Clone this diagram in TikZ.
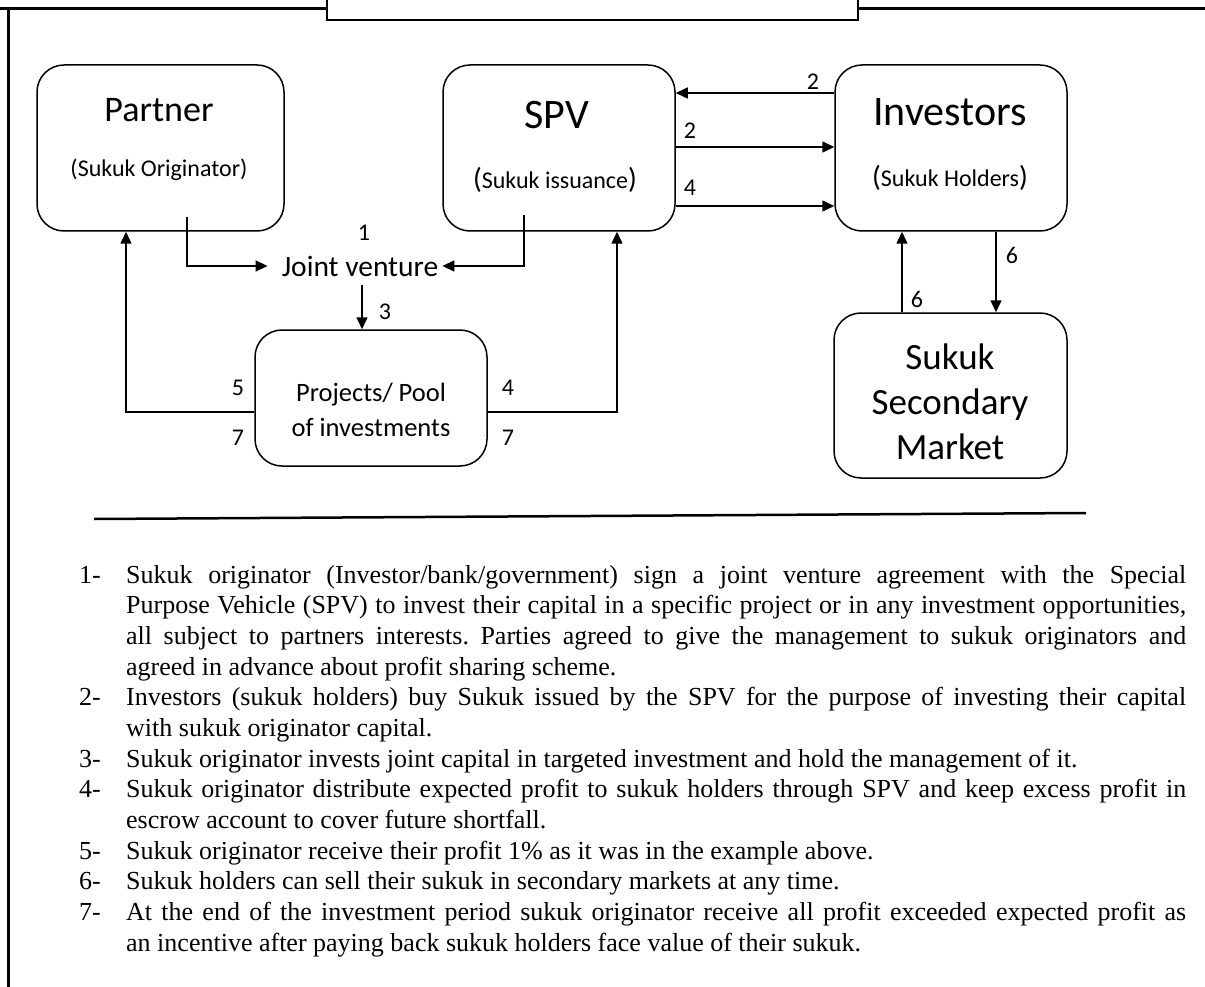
\documentclass[tikz,border=0pt]{standalone}
\usepackage{fontspec}
\setmainfont{Liberation Serif}
\newfontfamily\calib{Carlito}
\usetikzlibrary{arrows.meta}
\newcommand{\bp}[1]{{\fontsize{29}{30}\selectfont#1}}
\begin{document}
\frenchspacing
\begin{tikzpicture}[x=1pt,y=-1pt,
  box/.style={draw,line width=1.5pt,rounded corners=27pt,inner sep=0pt},
  arr/.style={line width=1.5pt,-{Triangle[length=12pt,width=11pt]}},
  lab/.style={font=\calib\fontsize{24}{28}\selectfont,inner sep=0pt},
  big/.style={font=\calib\fontsize{42}{48}\selectfont,inner sep=0pt},
  sub/.style={font=\calib\fontsize{24}{28}\selectfont,inner sep=0pt},
  txt/.style={anchor=base west,inner sep=0pt,font=\fontsize{26}{30}\selectfont},
  num/.style={anchor=base west,inner sep=0pt,font=\fontsize{26}{30}\selectfont},
]
\useasboundingbox (0,0) rectangle (1205,987);
% frame
\draw[line width=3pt] (0,9) -- (327,9);
\draw[line width=3pt] (858,9) -- (1205,9);
\draw[line width=3pt] (8,7.5) -- (8,987);
\node[draw,line width=1.5pt,minimum width=531pt,minimum height=40pt,inner sep=0pt,fill=white] (title) at (592.5,0) {};

% boxes
\node[box,minimum width=247pt,minimum height=166pt] (partner) at (160.5,148) {};
\node[box,minimum width=232pt,minimum height=166pt] (spv) at (559,148) {};
\node[box,minimum width=232pt,minimum height=166pt] (inv) at (951,148) {};
\node[box,minimum width=233pt,minimum height=165pt] (mkt) at (950.5,395.5) {};
\node[box,minimum width=232pt,minimum height=136pt] (proj) at (371,398) {};

% box texts
\node[font=\calib\fontsize{36}{42}\selectfont,inner sep=0pt] (ptitle) at (159,110) {Partner};
\node[sub] (psub) at (159,170) {(Sukuk Originator)};
\node[big] (stitle) at (557,115) {SPV};
\node[sub] (ssub) at (555,180) {\bp{(}Sukuk issuance\bp{)}};
\node[big] (ititle) at (950,112) {Investors};
\node[sub] (isub) at (950,178) {\bp{(}Sukuk Holders\bp{)}};
\node[font=\calib\fontsize{37}{45}\selectfont,inner sep=0pt,align=center] (mtext) at (950,402) {Sukuk\\Secondary\\Market};
\node[font=\calib\fontsize{26.5}{35}\selectfont,inner sep=0pt,align=center] (ptext) at (371,410) {Projects/ Pool\\of investments};
\node[font=\calib\fontsize{29.5}{34}\selectfont,inner sep=0pt] (jv) at (360,266) {Joint venture};

% coordinates
\coordinate (pa) at (187,217);
\coordinate (sa) at (524,215);
\coordinate (jvb) at (362,285);

% connectors
\draw[arr] (pa) |- ([xshift=-14pt]jv.west);
\draw[arr] (sa) |- ([xshift=4pt]jv.east);
\draw[arr] (jvb) -- (proj.north -| jvb);
\draw[arr] (proj.west |- 0,412) -| (partner.south -| 126,0);
\draw[arr] (proj.east |- 0,412) -| (spv.south -| 617,0);
\draw[arr] (inv.west |- 0,93) -- (spv.east |- 0,93);
\draw[arr] (spv.east |- 0,147) -- (inv.west |- 0,147);
\draw[arr] (spv.east |- 0,206) -- (inv.west |- 0,206);
\draw[arr] (mkt.north -| 902,0) -- (inv.south -| 902,0);
\draw[arr] (inv.south -| 996,0) -- (mkt.north -| 996,0);

% labels
\node[lab] (l1) at (364,233) {1};
\node[lab] (l2a) at (813,82) {2};
\node[lab] (l2b) at (690,131) {2};
\node[lab] (l4a) at (690,188) {4};
\node[lab] (l3) at (385,312) {3};
\node[lab] (l5) at (238,388) {5};
\node[lab] (l7a) at (238,438) {7};
\node[lab] (l4b) at (508,388) {4};
\node[lab] (l7b) at (508,438) {7};
\node[lab] (l6a) at (917,299) {6};
\node[lab] (l6b) at (1012,255) {6};

% rule
\draw[line width=2.5pt] (94,519) -- (1086,513);

% text
\node[num] (n1) at (79,583) {1-};
\node[txt] (t1) at (126,583) {\makebox[1060pt][s]{Sukuk originator (Investor/bank/government) sign a joint venture agreement with the Special}};
\node[txt] (t2) at (126,613.67) {\makebox[1060pt][s]{Purpose Vehicle (SPV) to invest their capital in a specific project or in any investment opportunities,}};
\node[txt] (t3) at (126,644.33) {\makebox[1060pt][s]{all subject to partners interests. Parties agreed to give the management to sukuk originators and}};
\node[txt] (t4) at (126,675) {agreed in advance about profit sharing scheme.};
\node[num] (n2) at (79,705.67) {2-};
\node[txt] (t5) at (126,705.67) {\makebox[1060pt][s]{Investors (sukuk holders) buy Sukuk issued by the SPV for the purpose of investing their capital}};
\node[txt] (t6) at (126,736.33) {with sukuk originator capital.};
\node[num] (n3) at (79,767) {3-};
\node[txt] (t7) at (126,767) {Sukuk originator invests joint capital in targeted investment and hold the management of it.};
\node[num] (n4) at (79,797.67) {4-};
\node[txt] (t8) at (126,797.67) {\makebox[1060pt][s]{Sukuk originator distribute expected profit to sukuk holders through SPV and keep excess profit in}};
\node[txt] (t9) at (126,828.33) {escrow account to cover future shortfall.};
\node[num] (n5) at (79,859) {5-};
\node[txt] (t10) at (126,859) {Sukuk originator receive their profit 1\% as it was in the example above.};
\node[num] (n6) at (79,889.67) {6-};
\node[txt] (t11) at (126,889.67) {Sukuk holders can sell their sukuk in secondary markets at any time.};
\node[num] (n7) at (79,920.33) {7-};
\node[txt] (t12) at (126,920.33) {\makebox[1060pt][s]{At the end of the investment period sukuk originator receive all profit exceeded expected profit as}};
\node[txt] (t13) at (126,951) {an incentive after paying back sukuk holders face value of their sukuk.};
\end{tikzpicture}
\end{document}
